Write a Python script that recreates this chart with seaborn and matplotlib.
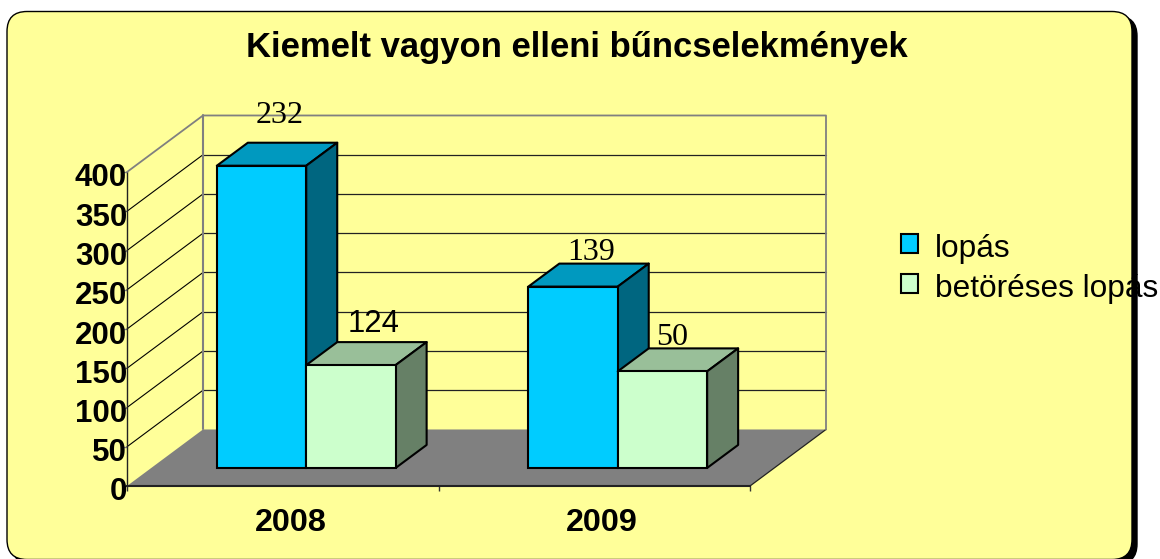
import pandas as pd
import seaborn as sns
from matplotlib import pyplot as plt
from matplotlib.patches import FancyBboxPatch, Polygon
from matplotlib.transforms import Affine2D

years = ["2008", "2009"]
series = ["lopás", "betöréses lopás"]
lopas = [385, 231]
betoreses = [131, 123]
# the labels printed on the chart do not match the bar heights
lopas_labels = ["232", "139"]
betoreses_labels = ["124", "50"]
y_ticks = [0, 50, 100, 150, 200, 250, 300, 350, 400]
title = "Kiemelt vagyon elleni bűncselekmények"

sans = "Liberation Sans"
serif = "Liberation Serif"
card_color = "#FFFF99"
front_colors = ["#00CCFF", "#CCFFCC"]
top_colors = ["#0099BF", "#99BF99"]
side_colors = ["#006680", "#668066"]

W, H = 1160, 559
# oblique offset of the back wall, in data units
depth_x = 76 / 311.5
depth_y = 72
# bars stand part way into the floor and have their own depth
bar_dx = 0.0754
bar_dy = 23
box_dx = 0.0995
box_dy = 29.3

df = pd.DataFrame({
    "year": years * 2,
    "type": [series[0]] * 2 + [series[1]] * 2,
    "value": lopas + betoreses,
})

sns.set_theme(style="white")
plt.rcParams["font.family"] = [sans, "DejaVu Sans"]

fig = plt.figure(figsize=(W / 100, H / 100), dpi=100)
fig.patch.set_facecolor("white")

# card with black shadow, in pixel coordinates
bg = fig.add_axes([0, 0, 1, 1], zorder=0)
bg.set_xlim(0, W)
bg.set_ylim(H, 0)
bg.axis("off")
bg.add_patch(FancyBboxPatch((12, 16), 1125, 548, boxstyle="round,pad=0,rounding_size=20",
                            facecolor="black", edgecolor="black", linewidth=1))
bg.add_patch(FancyBboxPatch((7, 11.5), 1125, 548, boxstyle="round,pad=0,rounding_size=20",
                            facecolor=card_color, edgecolor="black", linewidth=1))

ax = fig.add_axes([127 / W, (H - 486) / H, 623 / W, 314 / H], zorder=1)
ax.patch.set_visible(False)
sns.barplot(data=df, x="year", y="value", hue="type", hue_order=series,
            palette=front_colors, saturation=1, width=0.574, gap=0,
            edgecolor="black", linewidth=1.5, ax=ax, zorder=5)
ax.set_xlim(-0.5, 1.5)
ax.set_ylim(0, 400)
ax.set(xlabel="", ylabel="")

# floor
x0, x1 = -0.5, 1.5
ax.add_patch(Polygon([(x0, 0), (x1, 0), (x1 + depth_x, depth_y), (x0 + depth_x, depth_y)],
                     closed=True, facecolor="#808080", edgecolor="none", clip_on=False, zorder=1))
ax.plot([x1, x1 + depth_x], [0, depth_y], color="#222222", lw=0.9, clip_on=False, zorder=2)

# grid on the side wall and the back wall
for v in y_ticks[1:-1]:
    ax.plot([x0, x0 + depth_x], [v, v + depth_y], color="black", lw=0.8, clip_on=False, zorder=2)
    ax.plot([x0 + depth_x, x1 + depth_x], [v + depth_y, v + depth_y], color="#222222", lw=0.9,
            clip_on=False, zorder=2)
top = y_ticks[-1]
ax.plot([x0, x0 + depth_x, x1 + depth_x, x1 + depth_x],
        [top, top + depth_y, top + depth_y, depth_y], color="#808080", lw=1.3, clip_on=False, zorder=3)
ax.plot([x0 + depth_x, x0 + depth_x], [depth_y, top + depth_y], color="#808080", lw=1.5,
        clip_on=False, zorder=3)

# turn the flat bars into boxes
z = 5
for i in range(len(years)):
    for s, container in enumerate(ax.containers):
        bar = container[i]
        bar.set_x(bar.get_x() + bar_dx)
        bar.set_y(bar_dy)
        bar.set_clip_on(False)
        bar.set_zorder(z + 0.5)
        left = bar.get_x()
        right = left + bar.get_width()
        low = bar_dy
        high = low + bar.get_height()
        ax.add_patch(Polygon([(left, high), (right, high), (right + box_dx, high + box_dy), (left + box_dx, high + box_dy)],
                             closed=True, facecolor=top_colors[s], edgecolor="black", lw=1.5,
                             joinstyle="round", clip_on=False, zorder=z))
        ax.add_patch(Polygon([(right, low), (right + box_dx, low + box_dy), (right + box_dx, high + box_dy), (right, high)],
                             closed=True, facecolor=side_colors[s], edgecolor="black", lw=1.5,
                             joinstyle="round", clip_on=False, zorder=z))
        z += 1

# axes
sns.despine(ax=ax, top=True, right=True)
ax.spines["left"].set_color("#222222")
ax.spines["left"].set_linewidth(1)
ax.spines["bottom"].set_color("#222222")
ax.spines["bottom"].set_linewidth(1.5)
ax.spines["bottom"].set_zorder(4)
ax.set_yticks(y_ticks)
ax.set_yticklabels([str(v) for v in y_ticks], fontsize=22.5, fontweight="bold", fontfamily=sans,
                   va="center", color="black")
ax.tick_params(axis="y", left=True, length=3.6, width=1, color="#808080", pad=-1.5)
ax.set_xticks([0, 1])
ax.set_xticks([-0.5, 0.5, 1.5], minor=True)
ax.set_xticklabels(years, fontsize=23.2, fontweight="bold", fontfamily=sans, color="black")
ax.tick_params(axis="x", which="major", bottom=False, pad=10)
ax.tick_params(axis="x", which="minor", bottom=True, length=3.6, width=1, color="#333333")

# tick labels sit a little off their ticks in the original
for label in ax.get_yticklabels():
    label.set_transform(label.get_transform() + Affine2D().translate(3, -6.5))
for label in ax.get_xticklabels():
    label.set_transform(label.get_transform() + Affine2D().translate(8, 0))

# data labels, nudged to where the chart has them (pixels from bar top centre)
label_offsets = [[(18, 50), (18, 34.5)], [(23, 41), (10, 33.5)]]
label_fonts = [[serif, serif], [sans, serif]]
label_sizes = [[23, 23], [22.4, 23]]
all_labels = [lopas_labels, betoreses_labels]
for s, container in enumerate(ax.containers):
    for i, bar in enumerate(container):
        off = label_offsets[s][i]
        ax.annotate(all_labels[s][i],
                    xy=(bar.get_x() + bar.get_width() / 2, bar.get_y() + bar.get_height()),
                    xytext=(off[0] * 0.72, off[1] * 0.72), textcoords="offset points",
                    ha="center", va="center", fontsize=label_sizes[s][i], fontfamily=label_fonts[s][i],
                    color="black", zorder=20, annotation_clip=False)

handles, labels = ax.get_legend_handles_labels()
leg = ax.legend(handles, labels, loc="upper left", bbox_to_anchor=(901 / W, (H - 232) / H),
                bbox_transform=fig.transFigure, frameon=False,
                prop={"family": sans, "size": 22.8},
                handlelength=0.54, handleheight=0.54, handletextpad=0.54,
                labelspacing=0.3, borderpad=0, borderaxespad=0)
for t in leg.get_texts():
    t.set_color("black")
    t.set_y(-2)
leg.set_zorder(30)

fig.text(577 / W, 1 - 47 / H, title, ha="center", va="center", fontsize=24.95,
         fontweight="bold", fontfamily=sans, color="black")

fig.savefig("out.png", dpi=100)
plt.close()
